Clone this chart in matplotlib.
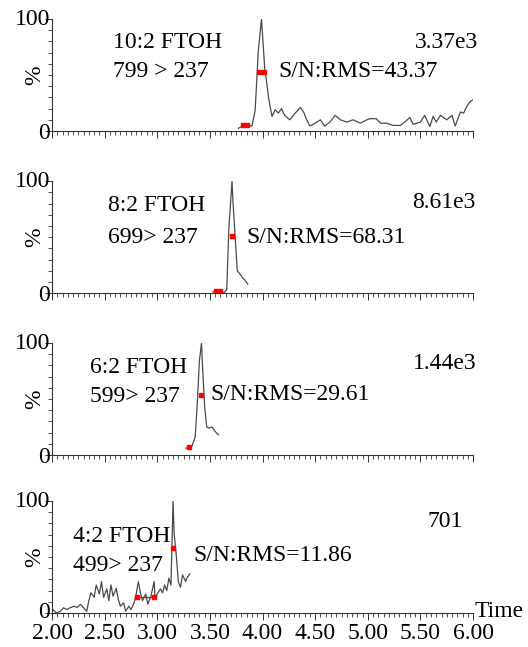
import matplotlib.pyplot as plt
from matplotlib.ticker import MultipleLocator, FormatStrFormatter

plt.rcParams['font.family'] = ['Liberation Serif', 'DejaVu Serif']

# Chromatograms (time in min, relative intensity in %)
t_102 = [3.77, 3.83, 3.90, 3.93, 3.96, 3.99, 4.02, 4.06, 4.09, 4.12, 4.15, 4.18,
         4.21, 4.26, 4.31, 4.36, 4.39, 4.42, 4.45, 4.50, 4.55, 4.59, 4.64, 4.69,
         4.74, 4.80, 4.86, 4.93, 4.99, 5.02, 5.08, 5.12, 5.18, 5.24, 5.31, 5.35,
         5.40, 5.43, 5.50, 5.54, 5.59, 5.62, 5.65, 5.69, 5.75, 5.80, 5.83, 5.88,
         5.91, 5.94, 5.97, 6.00]
i_102 = [2.4, 5.4, 4.5, 18.8, 72, 100, 57, 28, 13, 19, 16, 20,
         14, 10, 16, 21, 17, 10, 4.5, 7, 10, 4.5, 8, 14,
         10, 8, 10, 7, 10, 11, 11, 7, 7, 5, 5, 8,
         12, 6, 8, 14, 4, 13, 8, 14, 10, 14, 4.5, 17,
         16, 22, 26, 28]

t_82 = [3.53, 3.60, 3.63, 3.66, 3.68, 3.71, 3.72, 3.74, 3.76, 3.79, 3.81, 3.83, 3.86]
i_82 = [1, 1.5, 0, 3, 58, 100, 80, 50, 20, 16.5, 13.5, 12, 8]

t_62 = [3.27, 3.33, 3.36, 3.38, 3.40, 3.42, 3.43, 3.45, 3.47, 3.49, 3.52, 3.55, 3.58]
i_62 = [6, 8, 16, 46, 84, 100, 79, 43, 25, 24, 25, 21, 18]

t_42 = [2.01, 2.04, 2.08, 2.11, 2.14, 2.17, 2.21, 2.24, 2.27, 2.30, 2.33, 2.35,
        2.37, 2.40, 2.42, 2.45, 2.47, 2.49, 2.52, 2.54, 2.56, 2.58, 2.61, 2.63,
        2.65, 2.68, 2.70, 2.73, 2.75, 2.78, 2.80, 2.82, 2.84, 2.86, 2.89, 2.91,
        2.94, 2.97, 2.98, 3.00, 3.03, 3.05, 3.07, 3.09, 3.11, 3.13, 3.14, 3.15,
        3.16, 3.18, 3.20, 3.22, 3.24, 3.27, 3.28, 3.31]
i_42 = [3, 0, 1.5, 4.6, 3, 4.6, 6, 5, 7.7, 4.6, 1.5, 11,
        18, 14, 25, 17, 28, 14, 21.5, 11, 25, 15, 22, 12,
        6, 9, 1.5, 6, 3, 9, 17, 28, 18, 11, 17, 8,
        15, 28, 12, 17, 21.5, 18, 25, 20, 31, 25, 62, 100,
        71, 52, 28, 23, 34, 28, 31, 35]

# integration markers (red) per panel
mk_t = [[3.81, 3.85, 3.97, 4.01], [3.56, 3.60, 3.71], [3.30, 3.42], [2.81, 2.97, 3.15]]
mk_i = [[5, 5, 53, 53], [1.5, 1.5, 51], [7.4, 54], [14, 14, 58]]

names = ['10:2 FTOH', '8:2 FTOH', '6:2 FTOH', '4:2 FTOH']
transitions = ['799 > 237', '699> 237', '599> 237', '499> 237']
sn_labels = ['S/N:RMS=43.37', 'S/N:RMS=68.31', 'S/N:RMS=29.61', 'S/N:RMS=11.86']
intensities = ['3.37e3', '8.61e3', '1.44e3', '701']
traces = [(t_102, i_102), (t_82, i_82), (t_62, i_62), (t_42, i_42)]

# text positions (time, %) for name, transition, S/N, intensity
name_pos = [(2.58, 79), (2.53, 78), (2.36, 78), (2.20, 68)]
trans_pos = [(2.58, 53), (2.53, 50), (2.36, 52), (2.20, 42)]
sn_pos = [(4.15, 53), (3.85, 50), (3.50, 54), (3.34, 51)]
int_pos = [(6.05, 79), (6.02, 81), (6.03, 82), (5.90, 82)]

fig = plt.figure(figsize=(5.28, 6.47), dpi=100)
bottoms = [0.7975, 0.547, 0.2968, 0.0526]
fs = 17

for k in range(4):
    ax = fig.add_axes([0.0985, bottoms[k], 0.7975, 0.173])
    t, y = traces[k]
    ax.plot(t, y, color='#4a4a4a', linewidth=0.9)
    ax.plot(mk_t[k], mk_i[k], linestyle='none', marker='s', markersize=3.5,
            color='red', markeredgecolor='red')
    if k == 3:
        ax.plot(mk_t[k][:2], mk_i[k][:2], color='red', linewidth=0.9)

    ax.set_xlim(2.0, 6.0)
    ax.set_ylim(0, 100)
    for s in ['top', 'right']:
        ax.spines[s].set_visible(False)
    for s in ['left', 'bottom']:
        ax.spines[s].set_color('#333333')
        ax.spines[s].set_linewidth(0.8)

    ax.xaxis.set_major_locator(MultipleLocator(0.5))
    ax.xaxis.set_minor_locator(MultipleLocator(0.05))
    ax.yaxis.set_major_locator(MultipleLocator(100))
    ax.yaxis.set_minor_locator(MultipleLocator(10))
    ax.tick_params(axis='both', which='major', length=5, width=0.7, color='#333333',
                   labelsize=fs, pad=2)
    ax.tick_params(axis='both', which='minor', length=3, width=0.6, color='#333333')
    ax.set_yticklabels([])
    ax.text(-0.005, 100, '100', transform=ax.get_yaxis_transform(), ha='right',
            va='center', fontsize=fs)
    ax.text(-0.005, -2 if k < 3 else 0, '0', transform=ax.get_yaxis_transform(),
            ha='right', va='center', fontsize=fs)
    ax.set_ylabel('%', fontsize=fs, labelpad=-2)

    if k == 3:
        ax.xaxis.set_major_formatter(FormatStrFormatter('%.2f'))
        ax.annotate('Time', xy=(6.0, 0), xytext=(1, -3), textcoords='offset points',
                    ha='left', va='baseline', fontsize=fs, annotation_clip=False)
    else:
        ax.set_xticklabels([])

    ax.text(*name_pos[k], names[k], fontsize=fs, ha='left', va='center')
    ax.text(*trans_pos[k], transitions[k], fontsize=fs, ha='left', va='center')
    ax.text(*sn_pos[k], sn_labels[k], fontsize=fs, ha='left', va='center')
    ax.text(*int_pos[k], intensities[k], fontsize=fs, ha='right', va='center')

fig.savefig('out.png', dpi=100)
